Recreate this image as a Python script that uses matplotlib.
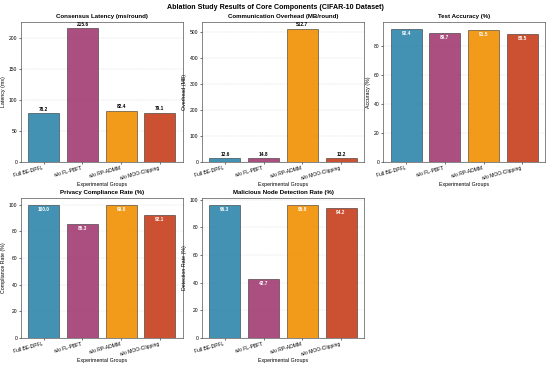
import numpy as np
import matplotlib
matplotlib.use("Agg")
from matplotlib import pyplot as plt

plt.rcParams['font.family'] = ['Liberation Sans', 'DejaVu Sans']

groups = ['Full BE-DPFL', 'w/o FL-PBFT', 'w/o RP-ADMM', 'w/o MOO-Clipping']
colors = ['#2E86AB', '#A23B72', '#F18F01', '#C73E1D']

latency = [78.2, 215.6, 82.4, 79.1]
overhead = [12.6, 14.8, 512.7, 13.2]
accuracy = [92.4, 89.7, 91.5, 88.5]
privacy = [100.0, 85.3, 99.8, 92.1]
detection = [96.3, 42.7, 95.8, 94.2]

panels = [
    ('Consensus Latency (ms/round)', 'Latency (ms)', latency, 'above'),
    ('Communication Overhead (MB/round)', 'Overhead (MB)', overhead, 'above'),
    ('Test Accuracy (%)', 'Accuracy (%)', accuracy, 'inside'),
    ('Privacy Compliance Rate (%)', 'Compliance Rate (%)', privacy, 'inside'),
    ('Malicious Node Detection Rate (%)', 'Detection Rate (%)', detection, 'inside'),
]

fig, axes = plt.subplots(2, 3, figsize=(5.5, 3.66), dpi=100)
fig.subplots_adjust(left=0.038, right=0.991, top=0.94, bottom=0.077,
                    wspace=0.12, hspace=0.26)
fig.suptitle('Ablation Study Results of Core Components (CIFAR-10 Dataset)',
             fontsize=5.1, fontweight='bold', y=0.99)

x = np.arange(len(groups))
for ax, (title, ylab, vals, pos) in zip(axes.flat, panels):
    bars = ax.bar(x, vals, color=colors, edgecolor='#222222', linewidth=0.4,
                  alpha=0.9, width=0.8, zorder=2)
    ax.set_title(title, fontsize=4.4, fontweight='bold', pad=3)
    ax.set_ylabel(ylab, fontsize=3.8, labelpad=2)
    ax.set_xlabel('Experimental Groups', fontsize=3.8, labelpad=1)
    ax.set_xticks(x)
    ax.set_xticklabels(groups, rotation=15, ha='right', fontsize=3.6)
    ax.tick_params(axis='y', labelsize=3.6, length=1.5, width=0.4, pad=1)
    ax.tick_params(axis='x', length=1.5, width=0.4, pad=1)
    ax.grid(axis='y', linestyle='--', linewidth=0.3, alpha=0.5, zorder=0)
    for s in ax.spines.values():
        s.set_linewidth(0.5)
        s.set_color('#555555')
    top = max(vals)
    for b, v in zip(bars, vals):
        if pos == 'above':
            ax.text(b.get_x() + b.get_width() / 2, v + top * 0.01, f'{v:.1f}',
                    ha='center', va='bottom', fontsize=3.4, fontweight='bold')
        else:
            ax.text(b.get_x() + b.get_width() / 2, v - top * 0.015, f'{v:.1f}',
                    ha='center', va='top', fontsize=3.4, fontweight='bold',
                    color='white')

axes[0, 0].set_ylim(0, 226)
axes[0, 1].set_ylim(0, 538)

axes[1, 2].remove()

fig.savefig('out.png', dpi=100)
